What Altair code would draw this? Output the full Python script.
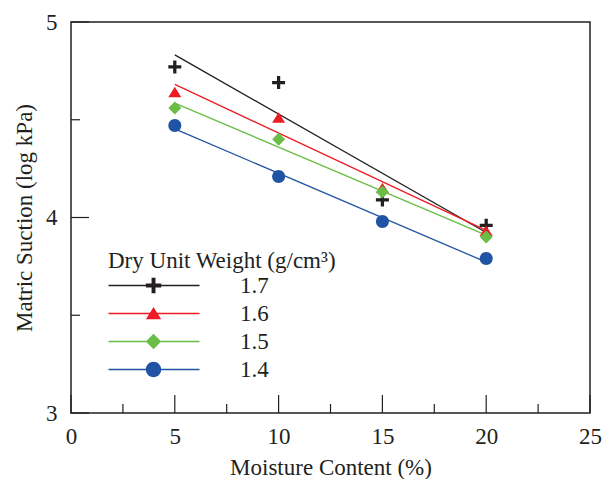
import altair as alt
import pandas as pd

# ---- data ----
moisture = [5, 10, 15, 20]
densities = ["1.7", "1.6", "1.5", "1.4"]
suction_17 = [4.77, 4.69, 4.09, 3.96]
suction_16 = [4.64, 4.51, 4.15, 3.93]
suction_15 = [4.56, 4.40, 4.13, 3.90]
suction_14 = [4.47, 4.21, 3.98, 3.79]
x_major = [0, 5, 10, 15, 20, 25]
x_minor = [2.5, 7.5, 12.5, 17.5, 22.5]
y_major = [3, 4, 5]
y_minor = [3.5, 4.5]

# ---- styles ----
colors = ["#231f20", "#ed1c24", "#6abd45", "#2153a4"]
FONT = "Liberation Serif"
FS = 23
W, H = 519, 391
LEG_TITLE = "Dry Unit Weight (g/cm³)"


def plus(cx, a, t):
    return (f"M{cx-a},{-t}H{cx-t}V{-a}H{cx+t}V{-t}H{cx+a}V{t}H{cx+t}V{a}"
            f"H{cx-t}V{t}H{cx-a}Z")


def tri(cx, a):
    return f"M{cx},{-0.85*a}L{cx+a},{0.75*a}L{cx-a},{0.75*a}Z"


def dia(cx, a):
    return f"M{cx},{-a}L{cx+a},0L{cx},{a}L{cx-a},0Z"


def circ(cx, a):
    return f"M{cx+a},0A{a},{a},0,1,1,{cx-a},0A{a},{a},0,1,1,{cx+a},0Z"


plot_paths = [plus(0, 1, 0.25), tri(0, 1), dia(0, 1), circ(0, 1)]
cx, a = 4.86, 1.1
line = "M-1.57,-0.095H11.43V0.095H-1.57Z"
legend_paths = [line + plus(cx, a, 0.28), line + tri(cx, a),
                line + dia(cx, a), line + circ(cx, a)]

rows = []
for d, s in zip(densities, [suction_17, suction_16, suction_15, suction_14]):
    for m, v in zip(moisture, s):
        rows.append({"density": d, "moisture": m, "suction": v})
df = pd.DataFrame(rows)

xs = alt.Scale(domain=[0, 25], nice=False, zero=False)
ys = alt.Scale(domain=[3, 5], nice=False, zero=False)
xaxis = alt.Axis(values=x_major, title="Moisture Content (%)", grid=False,
                 ticks=False, domain=False, labelFont=FONT, labelFontSize=FS,
                 labelColor="#231f20", labelPadding=12, labelFlush=False,
                 labelOverlap=False,
                 titleFont=FONT, titleFontSize=FS, titleFontWeight="normal",
                 titleColor="#231f20", titlePadding=8, format=".0f")
yaxis = alt.Axis(values=y_major, title="Matric Suction (log kPa)", grid=False,
                 ticks=False, domain=False, labelFont=FONT, labelFontSize=FS,
                 labelColor="#231f20", labelPadding=14, labelFlush=False,
                 labelOverlap=False, labelBound=False, labelSeparation=0,
                 titleFont=FONT, titleFontSize=FS, titleFontWeight="normal",
                 titleColor="#231f20", titlePadding=9, format=".0f")
X = alt.X("moisture:Q", scale=xs, axis=xaxis)
Y = alt.Y("suction:Q", scale=ys, axis=yaxis)


def cscale():
    return alt.Scale(domain=densities, range=colors)


lines = alt.Chart(df).transform_regression(
    "moisture", "suction", groupby=["density"]
).mark_line(strokeWidth=1.3).encode(
    x=X, y=Y, color=alt.Color("density:N", scale=cscale(), legend=None)
)

points = alt.Chart(df).mark_point(filled=True, size=169, opacity=1, strokeWidth=0).encode(
    x=X, y=Y,
    color=alt.Color("density:N", scale=cscale(), legend=None),
    shape=alt.Shape("density:N", scale=alt.Scale(domain=densities, range=plot_paths), legend=None),
)

leg = alt.Legend(orient="none", legendX=37, legendY=228,
                 title=LEG_TITLE, titleFont=FONT, titleFontSize=FS,
                 titleFontWeight="normal", titleColor="#231f20", titlePadding=1,
                 titleLimit=400,
                 labelFont=FONT, labelFontSize=FS, labelColor="#231f20",
                 labelOffset=109, symbolSize=196, symbolStrokeWidth=0,
                 symbolOpacity=1, rowPadding=4, padding=0)

legend_layer = alt.Chart(df).transform_filter("false").mark_point(
    filled=True, opacity=1
).encode(
    x=X, y=Y,
    color=alt.Color("density:N", scale=cscale(), legend=leg, title=LEG_TITLE),
    shape=alt.Shape("density:N", scale=alt.Scale(domain=densities, range=legend_paths), legend=leg, title=LEG_TITLE),
)

xmaj = pd.DataFrame({"moisture": x_major})
xmin = pd.DataFrame({"moisture": x_minor})
ymaj = pd.DataFrame({"suction": y_major})
ymin = pd.DataFrame({"suction": y_minor})

tick_style = dict(color="#231f20", strokeWidth=1.2)
t1 = alt.Chart(xmaj).mark_rule(**tick_style).encode(x=X, y=alt.value(H), y2=alt.value(H - 18))
t2 = alt.Chart(xmin).mark_rule(**tick_style).encode(x=X, y=alt.value(H), y2=alt.value(H - 9))
t3 = alt.Chart(ymaj).mark_rule(**tick_style).encode(y=Y, x=alt.value(0), x2=alt.value(18))
t4 = alt.Chart(ymin).mark_rule(**tick_style).encode(y=Y, x=alt.value(0), x2=alt.value(9))

chart = alt.layer(t1, t2, t3, t4, lines, points, legend_layer).resolve_scale(
    shape="independent", color="independent"
).properties(
    width=W, height=H,
    autosize=alt.AutoSizeParams(type="none"),
    padding={"left": 71, "top": 22, "right": 19, "bottom": 66},
    background="white",
).configure_view(stroke="#231f20", strokeWidth=1.5)

chart.save("out.html", embed_options={"renderer": "svg", "actions": False})
